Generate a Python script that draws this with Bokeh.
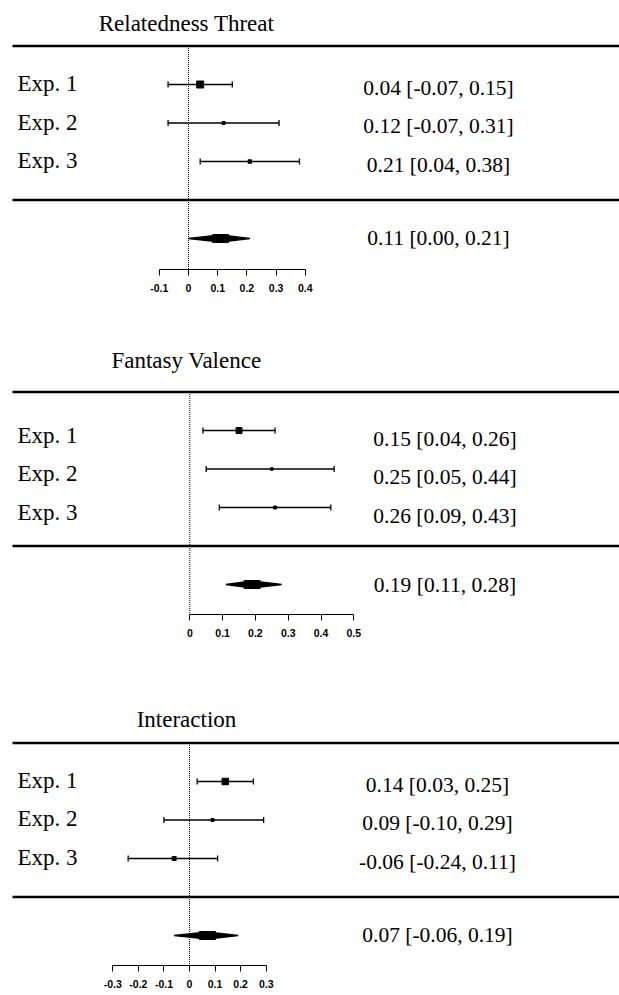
from bokeh.plotting import figure
from bokeh.layouts import column
from bokeh.models import (ColumnDataSource, Whisker, TeeHead, FixedTicker,
                          Label, Range1d)
from bokeh.core.properties import value
from bokeh.embed import file_html
from bokeh.resources import INLINE

# ---------------- data ----------------
EXPERIMENTS = ["Exp. 1", "Exp. 2", "Exp. 3"]

RT_TITLE = "Relatedness Threat"
RT_EST = [0.04, 0.12, 0.21]
RT_LO = [-0.07, -0.07, 0.04]
RT_HI = [0.15, 0.31, 0.38]
RT_SUMMARY = [0.11, 0.00, 0.21]
RT_TICKS = [-0.1, 0.0, 0.1, 0.2, 0.3, 0.4]
RT_TICK_LABELS = ["-0.1", "0", "0.1", "0.2", "0.3", "0.4"]

FV_TITLE = "Fantasy Valence"
FV_EST = [0.15, 0.25, 0.26]
FV_LO = [0.04, 0.05, 0.09]
FV_HI = [0.26, 0.44, 0.43]
FV_SUMMARY = [0.19, 0.11, 0.28]
FV_TICKS = [0.0, 0.1, 0.2, 0.3, 0.4, 0.5]
FV_TICK_LABELS = ["0", "0.1", "0.2", "0.3", "0.4", "0.5"]

IN_TITLE = "Interaction"
IN_EST = [0.14, 0.09, -0.06]
IN_LO = [0.03, -0.10, -0.24]
IN_HI = [0.25, 0.29, 0.11]
IN_SUMMARY = [0.07, -0.06, 0.19]
IN_TICKS = [-0.3, -0.2, -0.1, 0.0, 0.1, 0.2, 0.3]
IN_TICK_LABELS = ["-0.3", "-0.2", "-0.1", "0", "0.1", "0.2", "0.3"]

# ---------------- layout / style ----------------
W = 619
ROW_Y = [3, 2, 1]
TOP_RULE = 4
BOTTOM_RULE = 0
SUM_Y = -1
UNIT_PX = 38.5
RULE_LEFT_PX = 12
SERIF = "Liberation Serif"


def fmt(e, l, h):
    return f"{e:.2f} [{l:.2f}, {h:.2f}]"


def panel(title, est, lo, hi, summ, ticks, tick_labels, sizes, cfg):
    x_start, x_end = cfg["xr"]
    ppu = W / (x_end - x_start)
    p = figure(width=W, height=cfg["height"], output_backend="svg",
               toolbar_location=None, x_range=Range1d(x_start, x_end),
               y_range=Range1d(*cfg["yr"]), y_axis_location=None,
               min_border_left=0, min_border_right=0, min_border_top=0,
               min_border_bottom=cfg["bottom"])
    p.outline_line_color = None
    p.xgrid.visible = False
    p.ygrid.visible = False
    p.background_fill_color = "white"
    p.border_fill_color = "white"

    # rules
    rx0 = x_start + RULE_LEFT_PX / ppu
    p.segment(x0=[rx0, rx0], y0=[TOP_RULE, BOTTOM_RULE], x1=[x_end, x_end],
              y1=[TOP_RULE, BOTTOM_RULE], line_color="black", line_width=2.5)
    # zero line
    p.segment(x0=[0], y0=[TOP_RULE], x1=[0], y1=[cfg["yr"][0]],
              line_color="black", line_width=1, line_dash="1 1")

    src = ColumnDataSource(dict(y=ROW_Y, est=est, lo=lo, hi=hi, size=sizes,
                                lab=EXPERIMENTS,
                                txt=[fmt(e, l, h) for e, l, h in zip(est, lo, hi)],
                                x0=[x_start] * 3))
    p.add_layout(Whisker(source=src, base="y", lower="lo", upper="hi",
                         dimension="width", line_color="black", line_width=1.3,
                         lower_head=TeeHead(size=6, line_width=1.3),
                         upper_head=TeeHead(size=6, line_width=1.3)))
    p.scatter(x="est", y="y", size="size", marker="square", color="black",
              source=src)

    # summary diamond
    se, sl, sh = summ
    h = 3.5 / UNIT_PX
    p.patch(x=[sl, se, sh, se], y=[SUM_Y, SUM_Y + h, SUM_Y, SUM_Y - h],
            color="black", line_width=1.5)
    p.rect(x=[se], y=[SUM_Y], width=16, height=8, width_units="screen",
           height_units="screen", color="black")

    # texts
    p.text(x="x0", y="y", text="lab", source=src, text_font=value(SERIF),
           text_font_size="23px", text_align="left", text_baseline="alphabetic",
           x_offset=17, y_offset=cfg["lab_dy"], text_color="black")
    p.text(x="x0", y="y", text="txt", source=src, text_font=value(SERIF),
           text_font_size="21.5px", text_align="center", text_baseline="alphabetic",
           x_offset=cfg["val_x"], y_offset=cfg["val_dy"], text_color="black")
    p.text(x=[x_start], y=[SUM_Y], text=[fmt(se, sl, sh)],
           text_font=value(SERIF), text_font_size="21.5px", text_align="center",
           text_baseline="alphabetic", x_offset=cfg["val_x"],
           y_offset=cfg["sum_dy"], text_color="black")
    p.add_layout(Label(x=186, x_units="screen", y=cfg["title_y"],
                       text=title, text_font=SERIF, text_font_size="23px",
                       text_align="center", text_baseline="alphabetic",
                       text_color="black"))

    ax = p.xaxis[0]
    ax.ticker = FixedTicker(ticks=ticks)
    ax.major_label_overrides = {t: l for t, l in zip(ticks, tick_labels)}
    ax.bounds = (ticks[0], ticks[-1])
    ax.axis_line_color = "black"
    ax.axis_line_width = 1
    ax.major_tick_line_color = "black"
    ax.major_tick_in = 0
    ax.major_tick_out = 6
    ax.minor_tick_line_color = None
    ax.major_label_standoff = 8
    ax.major_label_text_font = "Liberation Sans"
    ax.major_label_text_font_style = "bold"
    ax.major_label_text_font_size = "10.5px"
    ax.major_label_text_color = "black"
    return p


def xr(zero_px, px_per_unit):
    s = -zero_px / px_per_unit
    return (s, s + W / px_per_unit)


cfg1 = dict(height=300, bottom=31, xr=xr(188, 292), yr=(-1.805, 5.182),
            lab_dy=-1, val_dy=3, sum_dy=-1, val_x=438, title_y=4.592)
cfg2 = dict(height=350, bottom=36, xr=xr(189.3, 328), yr=(-1.779, 6.377),
            lab_dy=4.5, val_dy=8, sum_dy=0, val_x=444.5, title_y=4.81)
cfg3 = dict(height=345, bottom=30, xr=xr(189, 255.6), yr=(-1.779, 6.403),
            lab_dy=-1.5, val_dy=3, sum_dy=-0.5, val_x=437, title_y=4.618)

p1 = panel(RT_TITLE, RT_EST, RT_LO, RT_HI, RT_SUMMARY, RT_TICKS, RT_TICK_LABELS,
           [7, 3, 3.5], cfg1)
p2 = panel(FV_TITLE, FV_EST, FV_LO, FV_HI, FV_SUMMARY, FV_TICKS, FV_TICK_LABELS,
           [6, 2.5, 3], cfg2)
p3 = panel(IN_TITLE, IN_EST, IN_LO, IN_HI, IN_SUMMARY, IN_TICKS, IN_TICK_LABELS,
           [6.5, 3, 4], cfg3)

layout = column(p1, p2, p3, spacing=0)
open("out.html", "w").write(file_html(layout, INLINE))
